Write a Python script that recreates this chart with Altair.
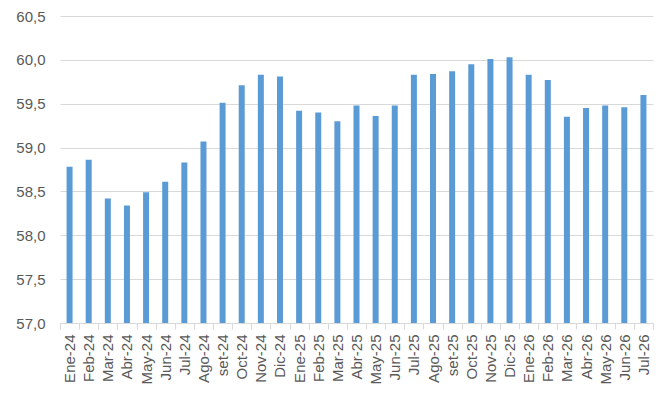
import altair as alt
import pandas as pd

months = ["Ene-24", "Feb-24", "Mar-24", "Abr-24", "May-24", "Jun-24", "Jul-24", "Ago-24",
          "set-24", "Oct-24", "Nov-24", "Dic-24", "Ene-25", "Feb-25", "Mar-25", "Abr-25",
          "May-25", "Jun-25", "Jul-25", "Ago-25", "set-25", "Oct-25", "Nov-25", "Dic-25",
          "Ene-26", "Feb-26", "Mar-26", "Abr-26", "May-26", "Jun-26", "Jul-26"]
values = [58.78, 58.86, 58.42, 58.34, 58.49, 58.61, 58.83, 59.07,
          59.51, 59.71, 59.83, 59.81, 59.42, 59.40, 59.30, 59.48,
          59.36, 59.48, 59.83, 59.84, 59.87, 59.95, 60.01, 60.03,
          59.83, 59.77, 59.35, 59.45, 59.48, 59.46, 59.60]

df = pd.DataFrame({"mes": months, "valor": values})

font = "Liberation Sans"
chart = alt.Chart(df).mark_bar(size=6, color="#5B9BD5", clip=True).encode(
    x=alt.X("mes:N", sort=months,
            scale=alt.Scale(paddingInner=0, paddingOuter=0),
            axis=alt.Axis(title=None, labelAngle=-90, labelFontSize=15, labelColor="#595959",
                          labelFont=font, tickBand="extent", tickColor="#D9D9D9", tickSize=6,
                          domainColor="#D9D9D9", labelPadding=5, grid=False)),
    y=alt.Y("valor:Q", scale=alt.Scale(domain=[57.0, 60.5], zero=False, nice=False),
            axis=alt.Axis(title=None, values=[57.0, 57.5, 58.0, 58.5, 59.0, 59.5, 60.0, 60.5],
                          labelExpr="replace(format(datum.value, '.1f'), '.', ',')",
                          labelFontSize=15, labelColor="#595959", labelFont=font,
                          ticks=False, domain=False, gridColor="#D9D9D9", labelPadding=15)),
).properties(
    width=593, height=307,
    autosize=alt.AutoSizeParams(type="none"),
    padding={"left": 52, "top": 8, "right": 10, "bottom": 70},
).configure_view(stroke=None)

chart.save("out.html", embed_options={"renderer": "svg", "actions": False})
